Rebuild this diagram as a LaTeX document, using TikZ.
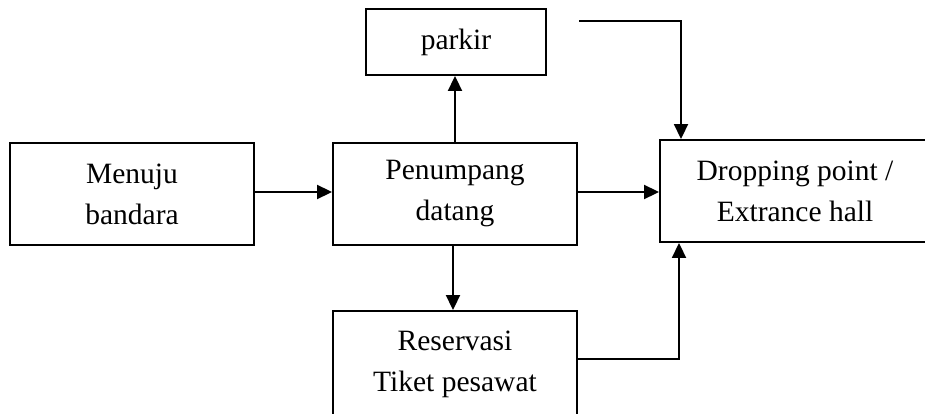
\documentclass[tikz,border=0pt]{standalone}
\usepackage{fontspec}
\setmainfont{Liberation Serif}
\usetikzlibrary{arrows.meta}
\begin{document}
\begin{tikzpicture}[x=1pt,y=1pt,
  box/.style={draw, line width=1.9pt, align=center, inner sep=0pt,
    font=\fontsize{29.5}{41}\selectfont},
  link/.style={line width=1.9pt, -{Triangle[length=15pt,width=14pt]}}]
\useasboundingbox (0,0) rectangle (925,413);
\clip (0,0) rectangle (925,413);

% process boxes
\node[box, minimum width=244, minimum height=102] (menuju)    at (132,219) {Menuju\\bandara};
\node[box, minimum width=244, minimum height=102] (penumpang) at (455,219) {Penumpang\\datang};
\node[box, minimum width=180, minimum height=66]  (parkir)    at (456,371) {parkir};
\node[box, minimum width=270, minimum height=102] (dropping)  at (795,222) {Dropping point /\\Extrance hall};
\node[box, minimum width=244, minimum height=106] (reservasi) at (455,49)  {Reservasi\\Tiket pesawat};

% connectors
\coordinate (start) at (579,392);
\draw[link] ([yshift=2]menuju.east) -- ([yshift=2]penumpang.west);
\draw[link] ([yshift=2]penumpang.east) -- ([yshift=2]penumpang.east -| dropping.west);
\draw[link] (penumpang.north) -- (penumpang.north |- parkir.south);
\draw[link] ([xshift=-2]penumpang.south) -- ([xshift=-2]penumpang.south |- reservasi.north);
\draw[link] (start) -| ([xshift=-114]dropping.north);
\draw[link] ([yshift=5]reservasi.east) -| ([xshift=-116]dropping.south);
\end{tikzpicture}
\end{document}
